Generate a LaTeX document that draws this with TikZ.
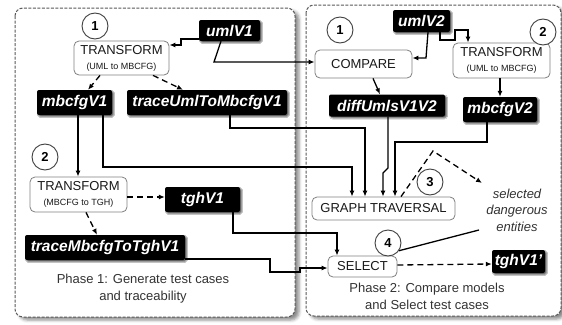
\documentclass[tikz,border=0pt]{standalone}
\usepackage{fontspec}
\setmainfont{Liberation Sans}
\usetikzlibrary{arrows.meta,shadows.blur,calc}
\begin{document}
\begin{tikzpicture}[x=1pt,y=-1pt,
 panel/.style={draw=black!65, dash pattern=on 3pt off 1.5pt, line width=1pt, rounded corners=8pt, fill=white,
   blur shadow={shadow xshift=4pt, shadow yshift=-3pt, shadow blur radius=3pt, shadow opacity=45}},
 proc/.style={draw=black!50, line width=0.8pt, rounded corners=5pt, fill=white, align=center, inner sep=0pt,
   font=\fontsize{13}{15}\selectfont, text=black!90},
 art/.style={fill=black, rounded corners=2pt, text=white, inner sep=0pt,
   font=\fontsize{15.5}{16}\selectfont\bfseries\itshape,
   blur shadow={shadow xshift=1.5pt, shadow yshift=-1.5pt, shadow blur radius=1pt, shadow opacity=60}},
 num/.style={circle, draw=black!75, line width=0.9pt, fill=white, minimum size=26pt, inner sep=0pt,
   font=\fontsize{13}{14}\selectfont\bfseries},
 arr/.style={line width=1.3pt, -{Latex[length=6pt,width=5pt]}},
 darr/.style={arr, dash pattern=on 6pt off 4pt},
 plain/.style={line width=1.3pt},
 note/.style={align=center, font=\fontsize{13}{17}\selectfont, text=black!80}
]
\useasboundingbox (0,0) rectangle (562,324);
% panels
\path[panel] (15,8) rectangle (295,317);
\path[panel] (306,5) rectangle (561,316);

% ---- left panel nodes
\node[num] (c1L) at (95,26) {1};
\node[proc, minimum width=95pt, minimum height=34pt] (trA) at (121.5,58)
  {TRANSFORM\\{\fontsize{9}{10}\selectfont(UML to MBCFG)}};
\node[art, minimum width=61pt, minimum height=21pt] (umlV1) at (229.5,30.5) {umlV1};
\node[art, minimum width=75pt, minimum height=25pt] (mbcfgV1) at (74.5,102.5) {mbcfgV1};
\node[art, minimum width=160pt, minimum height=25pt] (traceUml) at (207,102.5) {traceUmlToMbcfgV1};
\node[num] (c2L) at (45,157) {2};
\node[proc, minimum width=97pt, minimum height=35pt] (trB) at (78.5,194.5)
  {TRANSFORM\\{\fontsize{9}{10}\selectfont(MBCFG to TGH)}};
\node[art, minimum width=75pt, minimum height=25pt] (tghV1) at (202.5,199.5) {tghV1};
\node[art, minimum width=160pt, minimum height=25pt] (traceMb) at (105,247.5) {traceMbcfgToTghV1};
\node[note] (ph1) at (143,289) {Phase 1: Generate test cases\\and traceability};

% ---- right panel nodes
\node[num] (c1R) at (340,30) {1};
\node[art, minimum width=57pt, minimum height=22pt] (umlV2) at (421.5,21) {umlV2};
\node[proc, minimum width=97pt, minimum height=28pt] (cmp) at (363.5,64) {COMPARE};
\node[proc, minimum width=97pt, minimum height=35pt] (trC) at (501.5,60.5)
  {TRANSFORM\\{\fontsize{9}{10}\selectfont(UML to MBCFG)}};
\node[num] (c2R) at (543,32) {2};
\node[art, minimum width=116pt, minimum height=22pt] (diff) at (387,105.5) {diffUmlsV1V2};
\node[art, minimum width=74pt, minimum height=25pt] (mbcfgV2) at (500,109.5) {mbcfgV2};
\node[proc, minimum width=143pt, minimum height=23pt] (gt) at (383.5,208.5) {GRAPH TRAVERSAL};
\node[num] (c3) at (430,182) {3};
\node[note, font=\fontsize{13}{16.5}\selectfont\itshape] (sde) at (517,210) {selected\\dangerous\\entities};
\node[proc, minimum width=69pt, minimum height=21pt] (sel) at (362.5,266.5) {SELECT};
\node[num] (c4) at (388,243) {4};
\node[art, minimum width=53pt, minimum height=23pt] (tghV1p) at (518.5,261.5) {tghV1'};
\node[note] (ph2) at (427,296) {Phase 2: Compare models\\and Select test cases};

% ---- connectors, left
\draw[arr] (umlV1.west |- 0,39) -- (181,39) -- (181,45) -- (trA.east |- 0,45);
\draw[arr] (umlV1.south -| 221,0) -- (214,62) -- (cmp.west |- 0,62);
\draw[darr] (trA.south -| 100,0) -- (mbcfgV1.north -| 88,0);
\draw[darr] (trA.south -| 153,0) -- (traceUml.north -| 183,0);
\draw[arr] (mbcfgV1.south -| 78,0) -- (trB.north -| 78,0);
\draw[arr] (mbcfgV1.south -| 103,0) -- (103,167) -- (352,167) -- (gt.north -| 352,0);
\draw[arr] (traceUml.south -| 230,0) -- (230,128) -- (365,128) -- (gt.north -| 365,0);
\draw[darr] (trB.east |- 0,197) -- (tghV1.west |- 0,197);
\draw[darr] (trB.south -| 86,0) -- (traceMb.north -| 97,0);
\draw[arr] (tghV1.south -| 233,0) -- (233,233) -- (337,233) -- (sel.north -| 337,0);
\draw[arr] (traceMb.east |- 0,259) -- (270,259) -- (270,272) -- (300,272) -- (300,268) -- (sel.west |- 0,268);

% ---- connectors, right
\draw[arr] (umlV2.south -| 428,0) -- (426,58) -- (cmp.east |- 0,58);
\draw[arr] (umlV2.south -| 440,0) -- (440,40) -- (455,40) -- (455,30) -- (468,30) -- (trC.north -| 468,0);
\draw[arr] (trC.south -| 500,0) -- (mbcfgV2.north -| 500,0);
\draw[arr] (cmp.south -| 373,0) -- (diff.north -| 380,0);
\draw[arr] (diff.south -| 388,0) -- (388,168) -- (383,173) -- (gt.north -| 383,0);
\draw[arr] (mbcfgV2.south -| 487,0) -- (487,142) -- (395,142) -- (gt.north -| 395,0);
\coordinate (apex) at (433,151);
\coordinate (sdeIn) at (482,183);
\draw[darr] (gt.north -| 401,0) -- (apex) -- (sdeIn);
\coordinate (sdeOut) at (479,230);
\draw[plain] (c4.-35) -- (sdeOut);
\draw[darr] (sel.east |- 0,265) -- (tghV1p.west |- 0,264);
\end{tikzpicture}
\end{document}
